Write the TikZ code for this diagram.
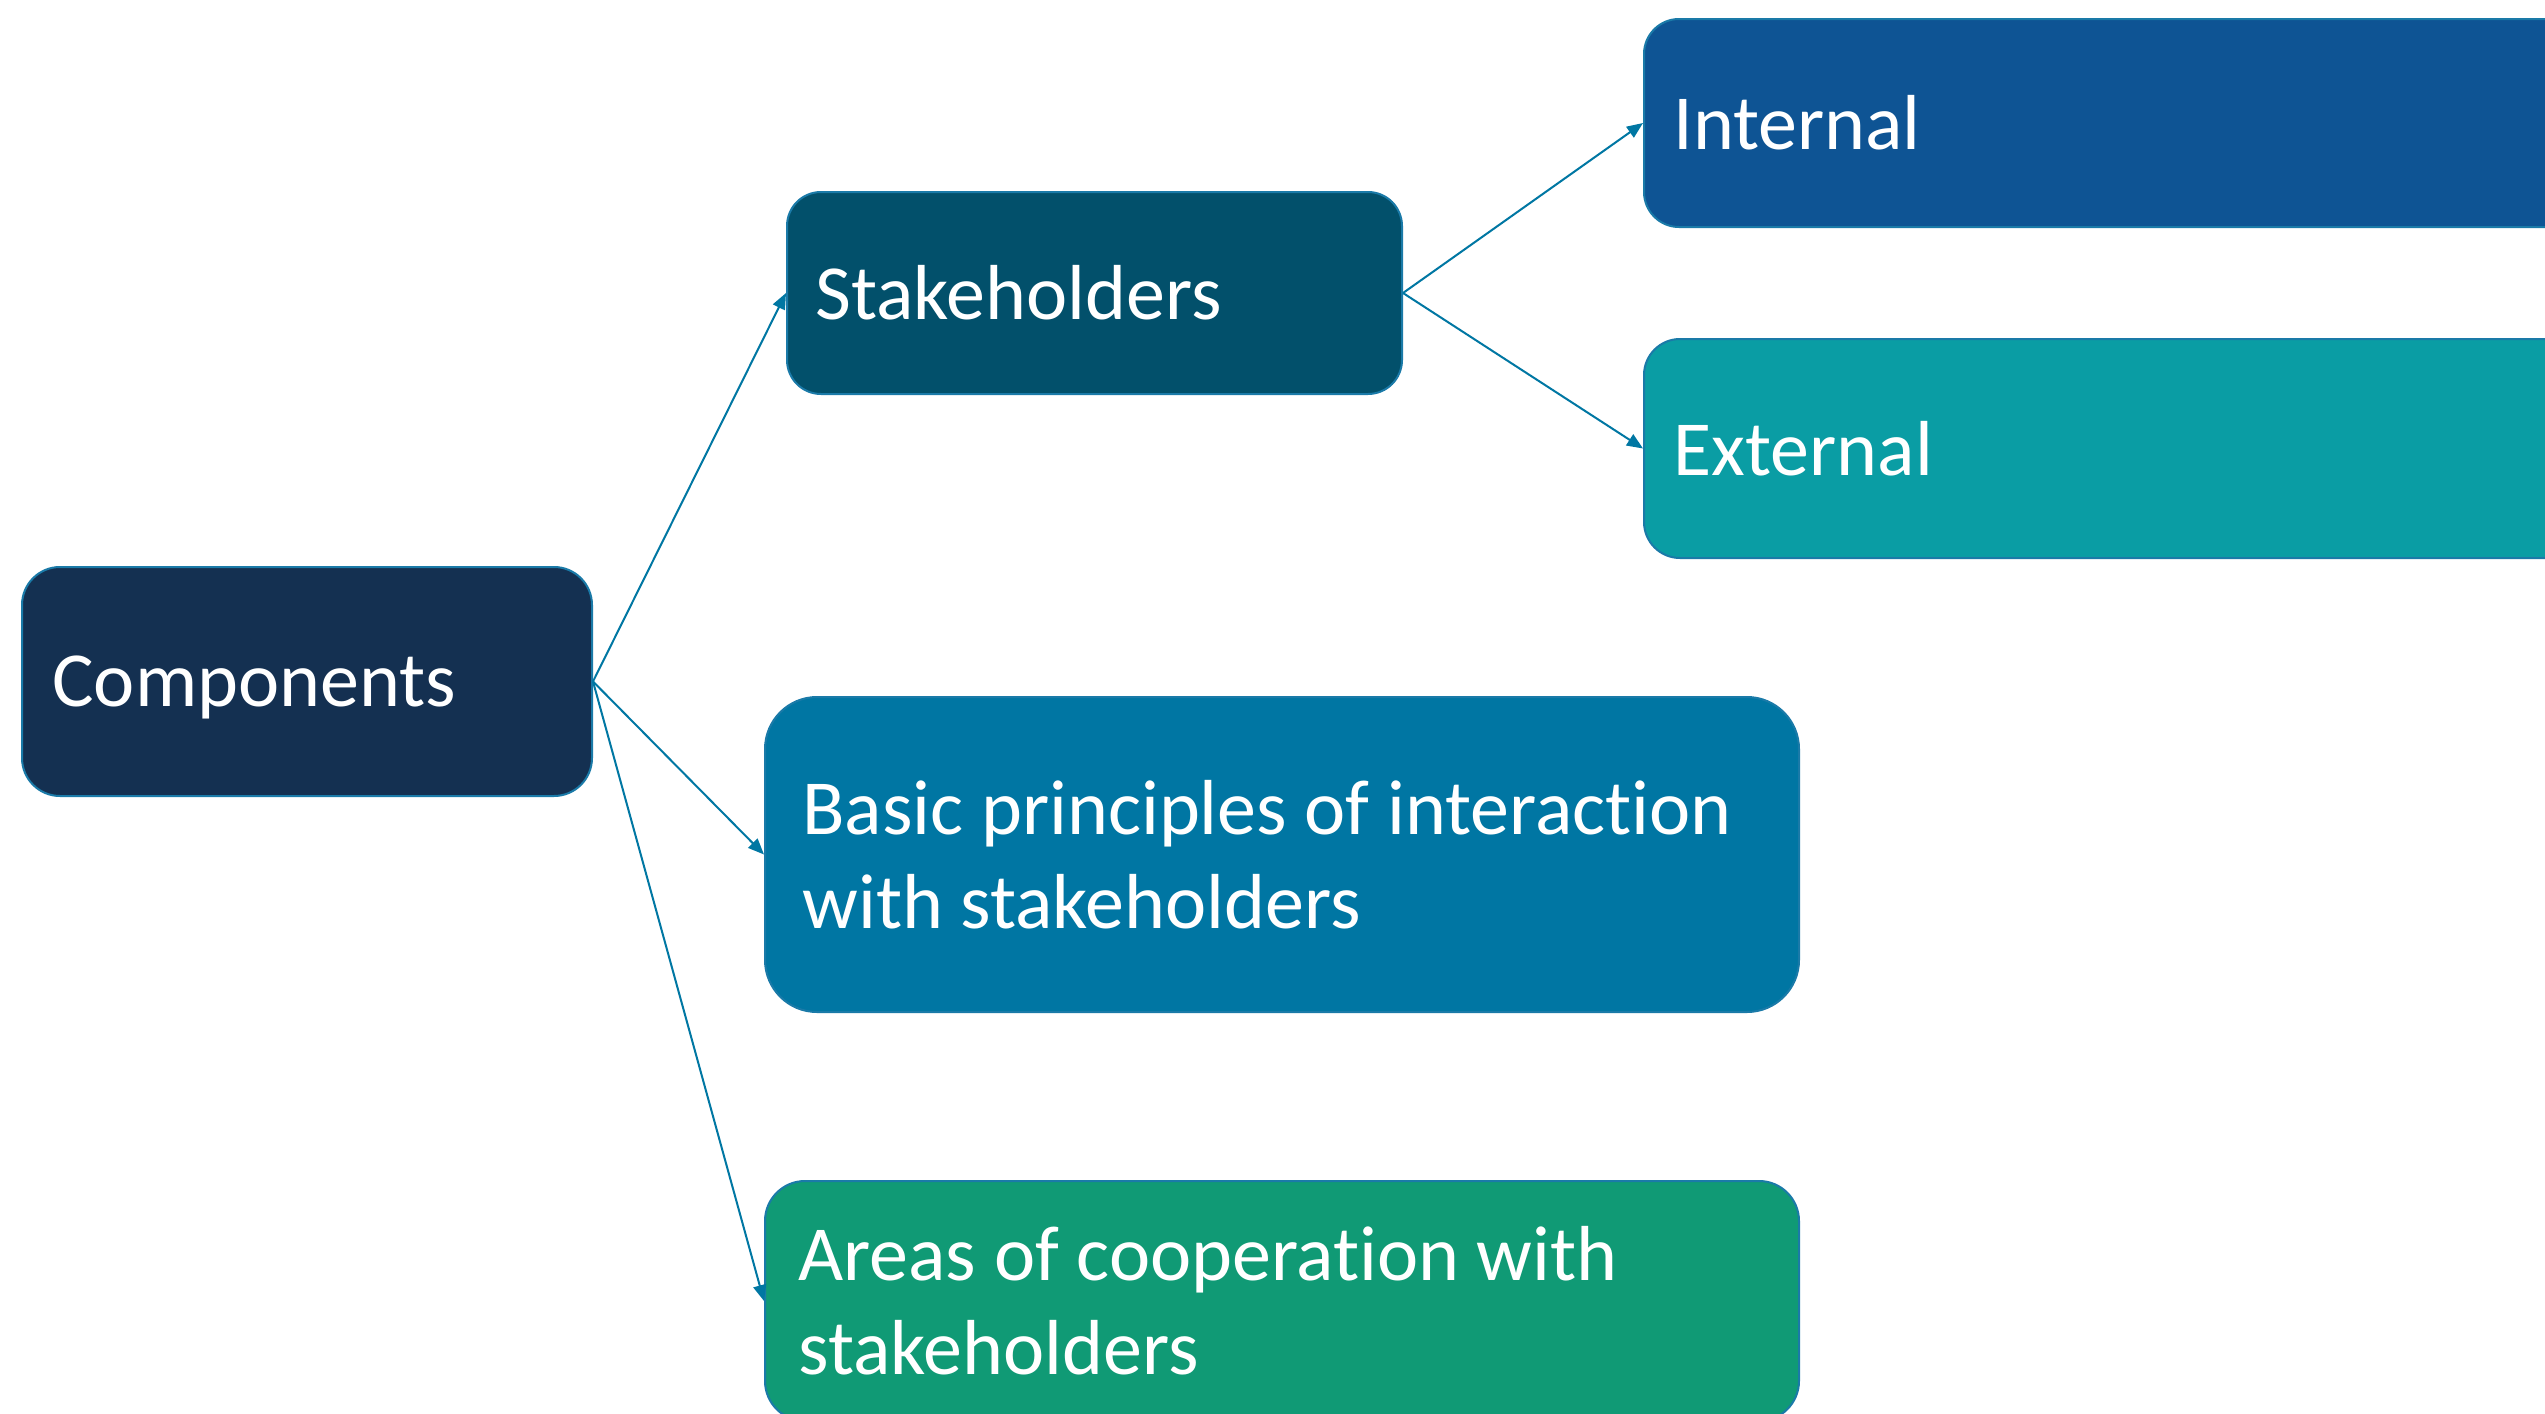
\documentclass[tikz,border=0pt]{standalone}
\usepackage{fontspec}
\setmainfont{Carlito}[Ligatures=NoCommon]
\usetikzlibrary{arrows.meta}
\definecolor{cComp}{HTML}{143051}
\definecolor{cStake}{HTML}{02506B}
\definecolor{cInt}{HTML}{0E5494}
\definecolor{cExt}{HTML}{0A9DA4}
\definecolor{cBasic}{HTML}{0076A3}
\definecolor{cAreas}{HTML}{109A75}
\definecolor{cLine}{HTML}{0077A3}
\definecolor{cBorder}{HTML}{1A7AA8}
\tikzset{
  box/.style={draw=cBorder, line width=1pt, inner sep=0pt, anchor=north west},
  lbl/.style={anchor=west, inner sep=0pt, text=white, align=left,
    font=\fontsize{39pt}{47pt}\selectfont},
  conn/.style={draw=cLine, line width=1pt, -{Triangle[length=8pt,width=6.5pt]}}
}
\begin{document}
\begin{tikzpicture}[x=0.5pt,y=-0.5pt]
\clip (0,0) rectangle (2545,1414);
\fill[white] (0,0) rectangle (2545,1414);
% boxes
\node[box, fill=cComp, rounded corners=19pt, minimum width=285pt, minimum height=114.5pt] (comp) at (21,566) {};
\node[box, fill=cStake, rounded corners=17pt, minimum width=307.5pt, minimum height=101pt] (stake) at (786,191) {};
\node[box, fill=cInt, rounded corners=17.5pt, minimum width=500pt, minimum height=104pt] (int) at (1643,18) {};
\node[box, fill=cExt, rounded corners=18pt, minimum width=500pt, minimum height=109.5pt] (ext) at (1643,338) {};
\node[box, fill=cBasic, rounded corners=26pt, minimum width=517pt, minimum height=157.5pt] (basic) at (764,696) {};
\node[box, fill=cAreas, rounded corners=20pt, minimum width=517pt, minimum height=120pt] (areas) at (764,1180) {};
% labels
\node[lbl] (tcomp) at ([xshift=15.5pt,yshift=-3pt]comp.west) {Components};
\node[lbl] (tstake) at ([xshift=14.5pt]stake.west) {Stakeholders};
\node[lbl] (tint) at ([xshift=15pt]int.west) {Internal};
\node[lbl] (text) at ([xshift=15pt]ext.west) {External};
\node[lbl] (tbasic) at ([xshift=19pt]basic.west) {Basic principles of interaction\\with stakeholders};
\node[lbl] (tareas) at ([xshift=17pt]areas.west) {Areas of cooperation with\\stakeholders};
% connectors
\draw[conn] (comp.east) -- (stake.west);
\draw[conn] (comp.east) -- (basic.west);
\draw[conn] (comp.east) -- (areas.west);
\draw[conn] (stake.east) -- (int.west);
\draw[conn] (stake.east) -- (ext.west);
\end{tikzpicture}
\end{document}
